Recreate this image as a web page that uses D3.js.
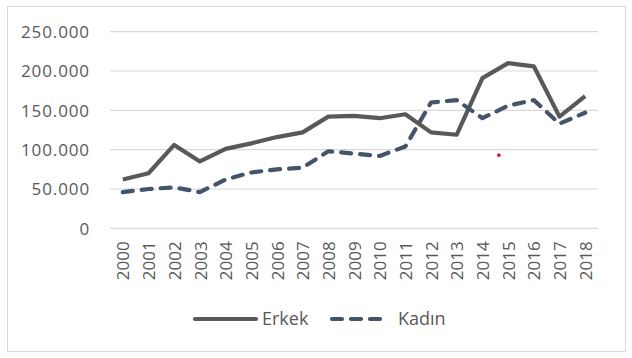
<!DOCTYPE html>
<html>
<head>
<meta charset="utf-8">
<script src="https://cdn.jsdelivr.net/npm/d3@7"></script>
<style>
  html, body { margin: 0; padding: 0; background: #ffffff; }
  svg { display: block; }
  text { font-family: "Open Sans", sans-serif; fill: #595959; }
</style>
</head>
<body>
<svg id="chart" width="632" height="358"></svg>
<script>
const years = ["2000","2001","2002","2003","2004","2005","2006","2007","2008","2009",
               "2010","2011","2012","2013","2014","2015","2016","2017","2018"];
const erkek = [62000, 70000, 106000, 85000, 101000, 108000, 116000, 122000, 142000, 143000,
               140000, 145000, 122000, 119000, 191000, 210000, 206000, 142000, 168000];
const kadin = [46000, 50000, 52000, 46000, 62000, 71000, 75000, 77000, 98000, 95000,
               92000, 104000, 160000, 163000, 140000, 156000, 163000, 133000, 147000];
const yTicks = [0, 50000, 100000, 150000, 200000, 250000];
const seriesNames = ["Erkek", "Kadın"];
const redMark = [{ pos: 14.64, value: 93000 }];

const svg = d3.select("#chart");
const plotLeft = 110, plotRight = 598, plotTop = 31.7, plotBottom = 228.3;

// outer border
svg.append("rect").attr("x", 7.5).attr("y", 6.5).attr("width", 618).attr("height", 345)
  .attr("fill", "none").attr("stroke", "#d9d9d9").attr("stroke-width", 1);

const x = d3.scalePoint().domain(years).range([plotLeft, plotRight]).padding(0.5);
const xIdx = d3.scaleLinear().domain([-0.5, years.length - 0.5]).range([plotLeft, plotRight]);
const y = d3.scaleLinear().domain([0, 250000]).range([plotBottom, plotTop]);

// gridlines
svg.append("g").selectAll("line").data(yTicks).join("line")
  .attr("x1", plotLeft).attr("x2", plotRight)
  .attr("y1", d => y(d)).attr("y2", d => y(d))
  .attr("stroke", "#d9d9d9").attr("stroke-width", 1.2);

// y axis
const fmt = d => d3.format(",")(d).replace(/,/g, ".");
const yAxis = svg.append("g").attr("transform", `translate(${plotLeft},0)`)
  .call(d3.axisLeft(y).tickValues(yTicks).tickSize(0).tickPadding(20).tickFormat(fmt));
yAxis.select(".domain").remove();
yAxis.selectAll("text").style("font-size", "17px").style("font-family", "'Open Sans', sans-serif")
  .style("letter-spacing", "0.9px")
  .attr("fill", "#595959").attr("dy", "0.35em");

// x axis
const xAxis = svg.append("g").attr("transform", `translate(0,${plotBottom})`)
  .call(d3.axisBottom(x).tickSize(0));
xAxis.select(".domain").remove();
xAxis.selectAll("text")
  .style("font-size", "17px").style("font-family", "'Open Sans', sans-serif")
  .attr("fill", "#595959")
  .attr("transform", "rotate(-90)")
  .attr("text-anchor", "end")
  .attr("x", -13)
  .attr("y", 0)
  .attr("dy", "0.36em");

// lines
const line = d3.line().x((d, i) => x(years[i])).y(d => y(d));
svg.append("path").datum(erkek).attr("d", line)
  .attr("fill", "none").attr("stroke", "#595959").attr("stroke-width", 4.2)
  .attr("stroke-linejoin", "round");
svg.append("path").datum(kadin).attr("d", line)
  .attr("fill", "none").attr("stroke", "#44546a").attr("stroke-width", 4.2)
  .attr("stroke-linejoin", "round").attr("stroke-linecap", "round")
  .attr("stroke-dasharray", "10,9");

// stray red mark
svg.append("g").selectAll("circle").data(redMark).join("circle")
  .attr("cx", d => xIdx(d.pos)).attr("cy", d => y(d.value)).attr("r", 1.8)
  .attr("fill", "#e0161c");

// legend
const legendY = 319;
const legend = svg.append("g");
legend.append("line").attr("x1", 195).attr("x2", 256).attr("y1", legendY).attr("y2", legendY)
  .attr("stroke", "#595959").attr("stroke-width", 4.2).attr("stroke-linecap", "round");
legend.append("text").attr("x", 262).attr("y", legendY).attr("dy", "0.35em")
  .style("font-size", "18px").text(seriesNames[0]);
legend.append("line").attr("x1", 332).attr("x2", 386).attr("y1", legendY).attr("y2", legendY)
  .attr("stroke", "#44546a").attr("stroke-width", 4.2).attr("stroke-linecap", "round")
  .attr("stroke-dasharray", "10,9");
legend.append("text").attr("x", 398).attr("y", legendY).attr("dy", "0.35em")
  .style("font-size", "18px").text(seriesNames[1]);
</script>
</body>
</html>
